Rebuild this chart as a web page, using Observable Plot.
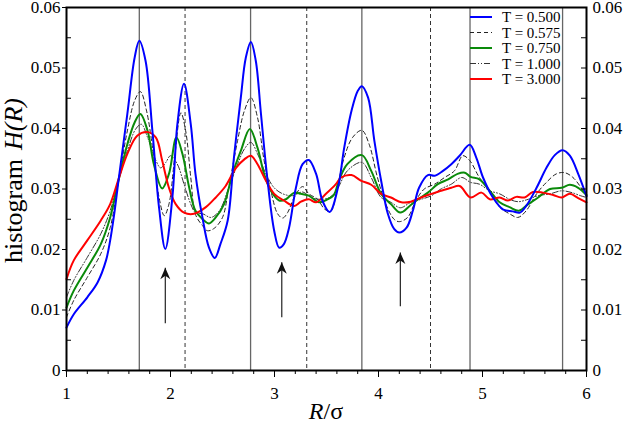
<!DOCTYPE html>
<html><head><meta charset="utf-8">
<script src="https://cdn.jsdelivr.net/npm/d3@7"></script>
<script src="https://cdn.jsdelivr.net/npm/@observablehq/plot@0.6"></script>
<style>body{margin:0;background:#fff} svg text{font-family:'Liberation Serif', serif;}</style>
</head><body><div id="chart"></div>
<script>
// H(R) values in units of 1e-3, as [R/sigma, H]
const T0500 = [[1.00,7.1],[1.07,9.3],[1.20,12.1],[1.30,14.6],[1.38,18.2],[1.42,21.5],[1.46,26.0],[1.50,31.4],[1.585,42.4],[1.655,51.7],[1.70,54.5],[1.76,51.2],[1.826,39.6],[1.89,26.9],[1.95,20.1],[2.018,28.6],[2.066,40.7],[2.13,47.4],[2.195,40.7],[2.24,32.5],[2.307,25.3],[2.37,20.3],[2.426,18.6],[2.48,20.9],[2.55,24.8],[2.61,35.2],[2.676,45.1],[2.724,51.7],[2.773,54.3],[2.82,51.2],[2.87,42.4],[2.93,31.9],[2.997,23.1],[3.045,20.3],[3.09,20.9],[3.14,23.6],[3.206,30.2],[3.27,34.1],[3.33,34.8],[3.40,32.5],[3.46,28.1],[3.53,26.2],[3.61,30.2],[3.67,36.8],[3.74,42.9],[3.80,46.2],[3.84,47.0],[3.90,45.1],[3.96,38.0],[4.025,31.4],[4.09,25.9],[4.15,23.4],[4.20,22.8],[4.27,23.6],[4.33,26.4],[4.39,30.2],[4.475,32.3],[4.54,32.2],[4.62,33.0],[4.70,34.1],[4.78,35.5],[4.877,37.3],[4.94,35.2],[5.005,31.9],[5.10,28.6],[5.20,26.6],[5.29,26.3],[5.36,26.1],[5.42,27.2],[5.52,30.2],[5.615,33.5],[5.695,35.6],[5.77,36.4],[5.84,35.5],[5.92,32.5],[6.00,28.8]];
const T0575 = [[1.00,8.8],[1.07,11.6],[1.20,15.4],[1.33,19.3],[1.42,23.6],[1.50,31.4],[1.585,39.6],[1.655,44.6],[1.71,46.1],[1.77,42.9],[1.84,35.2],[1.89,28.6],[1.94,25.6],[1.985,27.5],[2.04,35.2],[2.10,42.6],[2.146,39.6],[2.195,31.9],[2.24,25.8],[2.31,23.9],[2.355,23.1],[2.42,23.5],[2.50,25.3],[2.56,30.2],[2.645,38.0],[2.71,42.9],[2.773,45.1],[2.837,41.8],[2.90,34.7],[2.965,29.7],[3.03,25.9],[3.08,25.2],[3.126,26.1],[3.19,28.6],[3.27,30.4],[3.33,29.2],[3.415,28.3],[3.48,26.7],[3.54,26.3],[3.61,30.8],[3.67,35.2],[3.75,38.5],[3.84,39.7],[3.91,37.4],[3.99,31.9],[4.07,27.5],[4.15,25.0],[4.20,24.6],[4.28,25.3],[4.36,28.1],[4.44,30.0],[4.54,30.8],[4.635,31.9],[4.73,33.0],[4.81,35.5],[4.877,34.7],[4.97,31.9],[5.07,29.7],[5.165,27.0],[5.26,25.9],[5.34,25.3],[5.42,26.4],[5.52,29.2],[5.615,31.1],[5.71,32.5],[5.79,32.7],[5.87,31.9],[5.95,30.2],[6.00,29.0]];
const T0750 = [[1.00,10.4],[1.07,13.2],[1.20,17.0],[1.33,20.9],[1.42,25.3],[1.50,31.4],[1.585,37.4],[1.655,41.0],[1.71,42.4],[1.78,39.6],[1.84,34.1],[1.92,30.1],[1.985,32.5],[2.057,38.5],[2.115,35.8],[2.18,30.2],[2.24,26.4],[2.31,25.0],[2.37,24.3],[2.435,25.3],[2.515,27.5],[2.596,32.5],[2.676,36.3],[2.763,39.9],[2.837,36.8],[2.90,32.5],[2.965,29.7],[3.045,28.1],[3.11,28.3],[3.19,29.4],[3.254,29.2],[3.33,28.9],[3.43,27.8],[3.51,28.3],[3.57,29.0],[3.62,31.4],[3.70,34.1],[3.84,35.6],[3.93,33.0],[4.025,29.2],[4.12,27.5],[4.21,26.1],[4.30,27.2],[4.38,28.3],[4.475,29.4],[4.57,30.8],[4.67,31.6],[4.76,32.5],[4.83,32.7],[4.885,32.0],[4.97,31.6],[5.07,29.7],[5.165,27.8],[5.26,27.0],[5.35,26.4],[5.44,27.5],[5.535,28.6],[5.65,30.0],[5.76,30.2],[5.84,30.7],[5.92,30.2],[6.00,29.0]];
const T1000 = [[1.00,12.1],[1.07,14.9],[1.20,18.7],[1.33,22.6],[1.42,26.4],[1.50,31.4],[1.585,36.3],[1.665,39.9],[1.72,40.7],[1.78,38.5],[1.86,34.7],[1.905,33.5],[1.955,34.4],[2.00,35.5],[2.066,34.1],[2.13,30.8],[2.195,27.5],[2.24,26.1],[2.31,25.9],[2.39,25.3],[2.47,26.4],[2.56,30.2],[2.645,34.1],[2.71,36.6],[2.773,37.7],[2.837,35.8],[2.917,32.5],[2.997,30.2],[3.08,29.2],[3.175,28.9],[3.27,29.5],[3.35,28.6],[3.43,28.3],[3.53,28.6],[3.61,30.2],[3.70,33.0],[3.84,34.4],[3.93,31.9],[4.025,28.6],[4.12,27.8],[4.21,26.9],[4.31,27.8],[4.41,28.3],[4.51,28.9],[4.60,30.0],[4.70,30.8],[4.80,31.9],[4.885,31.1],[4.97,30.8],[5.07,29.7],[5.165,29.2],[5.26,28.3],[5.34,27.9],[5.44,28.3],[5.535,28.9],[5.65,29.2],[5.76,29.7],[5.86,29.4],[5.94,28.9],[6.00,28.6]];
const T3000 = [[1.00,15.1],[1.07,18.2],[1.20,21.5],[1.33,24.8],[1.42,27.5],[1.50,31.6],[1.585,35.8],[1.68,38.8],[1.78,39.4],[1.86,38.5],[1.92,34.7],[1.985,30.2],[2.05,27.5],[2.13,26.1],[2.226,25.9],[2.34,27.0],[2.435,28.6],[2.53,30.5],[2.63,33.5],[2.71,34.9],[2.773,35.5],[2.837,34.1],[2.917,31.4],[2.997,29.2],[3.09,28.1],[3.19,27.2],[3.254,27.9],[3.33,28.3],[3.40,27.8],[3.495,29.2],[3.59,30.8],[3.64,31.9],[3.74,32.3],[3.83,31.4],[3.93,30.7],[4.025,29.2],[4.12,28.6],[4.22,27.8],[4.31,27.9],[4.41,28.6],[4.51,29.2],[4.60,29.7],[4.70,30.2],[4.78,30.5],[4.885,28.6],[4.99,29.4],[5.07,28.3],[5.165,28.6],[5.245,28.1],[5.325,28.7],[5.405,28.6],[5.485,29.5],[5.58,29.4],[5.68,29.0],[5.76,28.6],[5.84,29.2],[5.92,28.5],[6.00,27.8]];

const solidRefs = [1.70, 2.77, 3.84, 4.88, 5.77];
const dashedRefs = [2.14, 3.31, 4.50];
// arrows: position, bottom and tip (H units 1e-3)
const arrowR = [1.95, 3.07, 4.21];
const arrowLo = [7.8, 8.8, 10.6];
const arrowHi = [17.0, 17.9, 19.5];

const legendLabels = ["T = 0.500", "T = 0.575", "T = 0.750", "T = 1.000", "T = 3.000"];
const yMajor = [0, 0.01, 0.02, 0.03, 0.04, 0.05, 0.06];
const yMinor = [0.005, 0.015, 0.025, 0.035, 0.045, 0.055];
const xMajor = [1, 2, 3, 4, 5, 6];
const xMinor = [1.2,1.4,1.6,1.8,2.2,2.4,2.6,2.8,3.2,3.4,3.6,3.8,4.2,4.4,4.6,4.8,5.2,5.4,5.6,5.8];

const W = 623, H = 422, mL = 66, mR = 37, mT = 7, mB = 52;
const frameW = W - mL - mR;
const FONT = "Liberation Serif";
const rows = a => a.map(([r, h]) => ({r, h: h / 1000}));
const fmtY = d => d === 0 ? "0" : d.toFixed(2);
const arrows = arrowR.map((r, i) => ({r, lo: arrowLo[i] / 1000, hi: arrowHi[i] / 1000}));
const stealth = {draw(ctx, size) {
  const s = Math.sqrt(size / Math.PI);
  ctx.moveTo(0, 0); ctx.lineTo(0.5 * s, 1.15 * s); ctx.lineTo(0, 0.8 * s); ctx.lineTo(-0.5 * s, 1.15 * s); ctx.closePath();
}};

const styles = [
  {stroke: "#0000ff", strokeWidth: 2},
  {stroke: "#222", strokeWidth: 1, strokeDasharray: "4,3"},
  {stroke: "#0a8a0a", strokeWidth: 2},
  {stroke: "#333", strokeWidth: 1, strokeDasharray: "6,2,1,2,1,2"},
  {stroke: "#ff0000", strokeWidth: 2}
];
const allSeries = [T0500, T0575, T0750, T1000, T3000];
const drawOrder = [3, 1, 2, 4, 0];
const tf = {fontFamily: FONT, fontSize: 17};

const plot = Plot.plot({
  width: W, height: H, marginLeft: mL, marginRight: mR, marginTop: mT, marginBottom: mB,
  style: "font-family: 'Liberation Serif', serif; font-size: 17px; background: #fff; color: #000;",
  x: {domain: [1, 6]},
  y: {domain: [0, 0.06]},
  marks: [
    Plot.ruleX(solidRefs, {stroke: "#666", strokeWidth: 1.3}),
    Plot.ruleX(dashedRefs, {stroke: "#333", strokeWidth: 1, strokeDasharray: "4,3"}),
    ...drawOrder.map(i => Plot.line(rows(allSeries[i]), {x: "r", y: "h", curve: "catmull-rom", ...styles[i]})),
    Plot.link(arrows, {x1: "r", x2: "r", y1: "lo", y2: "hi", stroke: "#222", strokeWidth: 1.2}),
    Plot.dot(arrows, {x: "r", y: "hi", r: 10, symbol: stealth, fill: "#111", stroke: null}),
    Plot.axisY({anchor: "left", ticks: yMajor, tickSize: 4, tickPadding: 2, tickFormat: fmtY, label: null, ...tf}),
    Plot.tickY(yMinor, {y: d => d, insetRight: frameW - 5, stroke: "#000"}),
    Plot.tickY([...yMajor, ...yMinor], {y: d => d, insetLeft: frameW - 5, stroke: "#000"}),
    Plot.axisY({anchor: "right", ticks: yMajor, tickSize: 0, tickPadding: 6, tickFormat: fmtY, label: null, ...tf}),
    Plot.axisX({anchor: "bottom", ticks: xMajor, tickSize: 7, tickPadding: 9, tickFormat: d => String(d), label: null, ...tf}),
    Plot.axisX({anchor: "bottom", ticks: xMinor, tickSize: 4, tickFormat: () => "", label: null}),
    Plot.frame({stroke: "#000", strokeWidth: 2}),
    Plot.text(["histogram"], {text: d => d, frameAnchor: "left", textAnchor: "middle", rotate: -90, dx: -53, dy: 22, fontSize: 26, fontFamily: FONT}),
    Plot.text(["H(R)"], {text: d => d, frameAnchor: "left", textAnchor: "middle", rotate: -90, dx: -53, dy: -65, fontSize: 26, fontStyle: "italic", fontFamily: FONT}),
    Plot.text(["R"], {text: d => d, frameAnchor: "bottom", textAnchor: "end", lineAnchor: "bottom", dy: 48, dx: -3, fontSize: 24, fontStyle: "italic", fontFamily: FONT}),
    Plot.text(["/σ"], {text: d => d, frameAnchor: "bottom", textAnchor: "start", lineAnchor: "bottom", dy: 48, dx: -3, fontSize: 24, fontFamily: FONT})
  ]
});

// legend inside the plot, top right
const svg = d3.select(plot);
const lg = svg.append("g").attr("font-family", FONT).attr("font-size", 15).attr("text-anchor", "start");
legendLabels.forEach((lab, i) => {
  const y = 17 + i * 15.5;
  const st = styles[i];
  lg.append("line").attr("x1", 470).attr("x2", 492).attr("y1", y).attr("y2", y)
    .attr("stroke", st.stroke).attr("stroke-width", st.strokeWidth)
    .attr("stroke-dasharray", st.strokeDasharray || null);
  lg.append("text").attr("x", 502).attr("y", y).attr("dy", "0.35em").attr("fill", "#000").text(lab);
});
document.getElementById("chart").appendChild(plot);
</script>
</body></html>
